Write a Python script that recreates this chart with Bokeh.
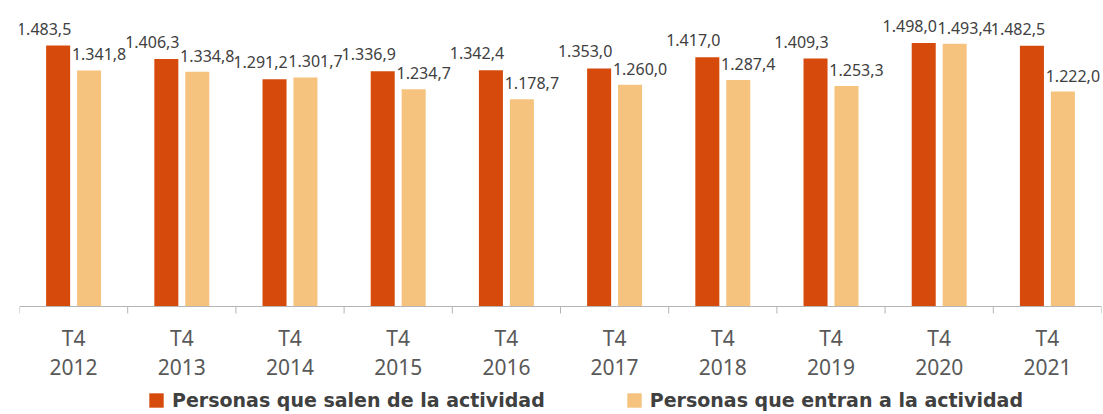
from bokeh.plotting import figure
from bokeh.models import (ColumnDataSource, FactorRange, Range1d, LabelSet, Legend, LegendItem)
from bokeh.transform import dodge
from bokeh.core.properties import value
from bokeh.embed import file_html
from bokeh.resources import INLINE

quarter = "T4"
years = ["2012", "2013", "2014", "2015", "2016", "2017", "2018", "2019", "2020", "2021"]
salen = [1483.5, 1406.3, 1291.2, 1336.9, 1342.4, 1353.0, 1417.0, 1409.3, 1498.0, 1482.5]
entran = [1341.8, 1334.8, 1301.7, 1234.7, 1178.7, 1260.0, 1287.4, 1253.3, 1493.4, 1222.0]
series_names = ["Personas que salen de la actividad", "Personas que entran a la actividad"]

DARK = "#D64B0C"
LIGHT = "#F5C37E"
AXIS = "#b4b4b4"
FONT = "Noto Sans"


def fmt(v):
    s = f"{v:,.1f}"
    return s.replace(",", "X").replace(".", ",").replace("X", ".")


src = ColumnDataSource(dict(
    cat=years,
    quarter=[quarter] * len(years),
    salen=salen,
    entran=entran,
    salen_lbl=[fmt(v) for v in salen],
    entran_lbl=[fmt(v) for v in entran],
    zero=[0] * len(years),
))

PX = 1483.5 / 261.0          # data units per pixel
Y_TOP = 306 * PX
Y_BOTTOM = -108 * PX         # room under the baseline for category labels and legend
TICK = 7 * PX

p = figure(x_range=FactorRange(*years, range_padding=0), y_range=Range1d(Y_BOTTOM, Y_TOP),
           width=1103, height=414, output_backend="svg", toolbar_location=None,
           x_axis_location=None, y_axis_location=None,
           min_border_left=19, min_border_right=2, min_border_top=0, min_border_bottom=0)
p.grid.visible = False
p.outline_line_color = None
p.background_fill_color = "white"
p.border_fill_color = "white"

OFF = 0.143
W = 0.222
r1 = p.vbar(x=dodge("cat", -OFF, range=p.x_range), top="salen", width=W, source=src,
            fill_color=DARK, line_color=None)
r2 = p.vbar(x=dodge("cat", OFF, range=p.x_range), top="entran", width=W, source=src,
            fill_color=LIGHT, line_color=None)

# category axis: baseline and boundary ticks (synthetic coordinates of the factor range)
n = len(years)
p.segment(x0=[0], y0=[0], x1=[n], y1=[0], line_color=AXIS, line_width=1)
p.segment(x0=list(range(n + 1)), y0=[0] * (n + 1), x1=list(range(n + 1)), y1=[-TICK] * (n + 1),
          line_color=AXIS, line_width=1)

ax_kw = dict(x="cat", y="zero", source=src, text_align="center", text_baseline="middle",
             text_font_size="21px", text_color="#595959", text_font=value(FONT))
p.add_layout(LabelSet(text="quarter", y_offset=-31, **ax_kw))
p.add_layout(LabelSet(text="cat", y_offset=-60, **ax_kw))

lbl_kw = dict(text_align="center", text_baseline="middle", source=src,
              text_font_size="16px", text_color="#404040", text_font=value(FONT))
p.add_layout(LabelSet(x=dodge("cat", -OFF, range=p.x_range), y="salen", text="salen_lbl",
                      x_offset=-14, y_offset=17, **lbl_kw))
p.add_layout(LabelSet(x=dodge("cat", OFF, range=p.x_range), y="entran", text="entran_lbl",
                      x_offset=10, y_offset=16, **lbl_kw))

legend = Legend(items=[LegendItem(label=series_names[0], renderers=[r1]),
                       LegendItem(label=series_names[1], renderers=[r2])],
                orientation="horizontal", location=(128, 3),
                glyph_width=18, glyph_height=18, label_standoff=7, spacing=80,
                padding=0, margin=0, border_line_color=None, background_fill_alpha=0,
                label_text_font="DejaVu Sans", label_text_font_style="bold",
                label_text_font_size="19px", label_text_color="#404040")
p.add_layout(legend, "center")

open("out.html", "w").write(file_html(p, INLINE))
